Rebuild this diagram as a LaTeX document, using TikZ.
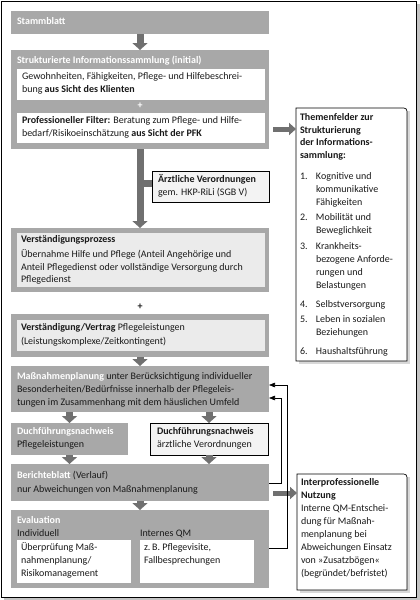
\documentclass[tikz,border=0pt]{standalone}
\usepackage{fontspec}
\setmainfont{Carlito}
\usetikzlibrary{arrows.meta,shadows}
\definecolor{boxgray}{HTML}{A8A8A8}
\definecolor{arrgray}{HTML}{707070}
\definecolor{lightfill}{HTML}{EBEBEB}
\definecolor{notefill}{HTML}{F3F3F3}
\definecolor{txt}{HTML}{1A1A1A}
\definecolor{framesh}{HTML}{C4C4C4}
\begin{document}
\begin{tikzpicture}[x=1pt,y=-1pt,
  every node/.style={inner sep=0pt, outer sep=0pt},
  box/.style={anchor=north west, draw=none},
  graybox/.style={box, fill=boxgray},
  whitebox/.style={box, fill=white},
  lightbox/.style={box, fill=lightfill},
  notebox/.style={box, fill=notefill, draw=black, line width=0.7pt},
  sidebox/.style={box, fill=white, drop shadow={shadow xshift=2.5pt, shadow yshift=-2.5pt, fill=black!30}},
  tl/.style={anchor=north west, align=left, text=txt, font=\fontsize{10}{13}\selectfont},
  wt/.style={tl, text=white, font=\fontsize{10}{13}\selectfont\bfseries},
  blockarrow/.style={draw=arrgray, line width=7pt, -{Triangle[width=15pt,length=7pt]}},
  blockline/.style={draw=arrgray, line width=7pt},
  sidearrow/.style={draw=arrgray, line width=5pt, -{Triangle[width=12pt,length=7pt]}},
  fb/.style={draw=black, line width=0.6pt, -{Triangle[width=4.5pt,length=6pt]}}
]
\useasboundingbox (0,0) rectangle (420,600);
% frame
\fill[framesh] (4,4) rectangle (420,600);
\draw[fill=white, line width=0.8pt] (1,1) rectangle (416,597);

% Stammblatt
\node[graybox, minimum width=258pt, minimum height=23pt] (stamm) at (11,11) {};
\node[wt] (stammT) at (17,15.7) {\strut Stammblatt};

% Strukturierte Informationssammlung
\node[graybox, minimum width=258pt, minimum height=99pt] (struk) at (11,50) {};
\node[wt] (strukT) at (17,54.7) {\strut Strukturierte Informationssammlung (initial)};
\node[whitebox, minimum width=248pt, minimum height=31pt] (gew) at (17,69) {};
\node[tl] (gewT) at (22,70.7) {\strut Gewohnheiten, Fähigkeiten, Pflege- und Hilfebeschrei-\\bung \textbf{aus Sicht des Klienten}};
\node[text=white, font=\fontsize{10}{13}\selectfont\bfseries] (plus1) at (140,106) {+};
\node[whitebox, minimum width=248pt, minimum height=30pt] (prof) at (17,113) {};
\node[tl] (profT) at (22,114.7) {\strut\textbf{Professioneller Filter:} Beratung zum Pflege- und Hilfe-\\bedarf/Risikoeinschätzung \textbf{aus Sicht der PFK}};

% Aerztliche Verordnungen
\node[notebox, minimum width=117pt, minimum height=31pt] (arzt) at (152,171) {};
\node[tl] (arztT) at (158,173.7) {\strut\textbf{Ärztliche Verordnungen}\\gem. HKP-RiLi (SGB V)};

% Verstaendigungsprozess
\node[graybox, minimum width=258pt, minimum height=64pt] (verst) at (11,228) {};
\node[lightbox, minimum width=248pt, minimum height=54pt] (verstI) at (17,233) {};
\node[tl, font=\fontsize{10}{13}\selectfont\bfseries] (verstT) at (21,233.7) {\strut Verständigungsprozess};
\node[tl, font=\fontsize{10}{12.5}\selectfont] (verstB) at (21,249) {\strut Übernahme Hilfe und Pflege (Anteil Angehörige und\\Anteil Pflegedienst oder vollständige Versorgung durch\\Pflegedienst};

\node[text=txt, font=\fontsize{10}{13}\selectfont\bfseries] (plus2) at (140,307) {+};

% Vertrag
\node[graybox, minimum width=258pt, minimum height=43pt] (vertr) at (11,314) {};
\node[lightbox, minimum width=248pt, minimum height=31pt] (vertrI) at (17,320) {};
\node[tl] (vertrT) at (21,321.7) {\strut\textbf{Verständigung/Vertrag} Pflegeleistungen\\[1pt](Leistungskomplexe/Zeitkontingent)};

% Massnahmenplanung
\node[graybox, minimum width=258pt, minimum height=46pt] (mass) at (11,366) {};
\node[tl] (massT) at (17,370.7) {\strut\textcolor{white}{\textbf{Maßnahmenplanung}} unter Berücksichtigung individueller\\Besonderheiten/Bedürfnisse innerhalb der Pflegeleis-\\tungen im Zusammenhang mit dem häuslichen Umfeld};

% Durchfuehrungsnachweise
\node[graybox, minimum width=117pt, minimum height=32pt] (dpfl) at (11,423) {};
\node[tl] (dpflT) at (17,425.7) {\strut\textcolor{white}{\textbf{Duchführungsnachweis}}\\Pflegeleistungen};
\node[notebox, minimum width=118pt, minimum height=32pt] (darzt) at (150,423) {};
\node[tl] (darztT) at (157,425.7) {\strut\textbf{Duchführungsnachweis}\\ärztliche Verordnungen};

% Berichteblatt
\node[graybox, minimum width=258pt, minimum height=37pt] (ber) at (11,464) {};
\node[tl] (berT) at (17,469.7) {\strut\textcolor{white}{\textbf{Berichteblatt}} (Verlauf)\\[1pt]nur Abweichungen von Maßnahmenplanung};

% Evaluation
\node[graybox, minimum width=258pt, minimum height=78pt] (eval) at (11,510) {};
\node[wt] (evalT) at (17,514.7) {\strut Evaluation};
\node[tl] (indT) at (17,527.7) {\strut Individuell};
\node[tl] (qmT) at (140,527.7) {\strut Internes QM};
\node[whitebox, minimum width=114pt, minimum height=43pt] (ueb) at (17,540) {};
\node[tl] (uebT) at (21,541.7) {\strut Überprüfung Maß-\\nahmenplanung/\\Risikomanagement};
\node[whitebox, minimum width=114pt, minimum height=43pt] (visi) at (140,540) {};
\node[tl] (visiT) at (144,541.7) {\strut z.\,B. Pflegevisite,\\Fallbesprechungen};

% block arrows
\draw[blockarrow] (stamm.south) -- (struk.north);
\draw[blockarrow] (struk.south) -- (verst.north);
\draw[blockline] (struk.south |- arzt.west) ++(0,-3) coordinate (j1);
\draw[blockline] (j1) -- (j1 -| arzt.west);
\draw[blockarrow] (vertr.south) -- (mass.north);
\draw[blockarrow] (mass.south -| dpfl.north) -- (dpfl.north);
\draw[blockarrow] (mass.south -| darzt.north) -- (darzt.north);
\draw[blockarrow] (dpfl.south) -- (dpfl.south |- ber.north);
\draw[blockarrow] (darzt.south) -- (darzt.south |- ber.north);
\draw[blockarrow] (ber.south) -- (eval.north);

% Themenfelder box
\node[sidebox, minimum width=111pt, minimum height=253pt] (them) at (296,108) {};
\draw[line width=0.7pt] (them.south west) -- (them.north west) -- ([xshift=-7pt]them.north east) .. controls (them.north east) .. ([yshift=-7pt]them.north east) -- (them.south east) -- cycle;
\node[tl, font=\fontsize{10}{12.7}\selectfont\bfseries] (themT) at (300,111.7) {\strut Themenfelder zur\\Strukturierung\\der Informations-\\sammlung:};
\node[tl] (i1) at (300,170.7) {\strut\makebox[16pt][l]{1.}Kognitive und\\\hspace*{16pt}kommunikative\\\hspace*{16pt}Fähigkeiten};
\node[tl] (i2) at (300,211.7) {\strut\makebox[16pt][l]{2.}Mobilität und\\\hspace*{16pt}Beweglichkeit};
\node[tl] (i3) at (300,240.7) {\strut\makebox[16pt][l]{3.}Krankheits-\\\hspace*{16pt}bezogene Anforde-\\\hspace*{16pt}rungen und\\\hspace*{16pt}Belastungen};
\node[tl] (i4) at (300,298.7) {\strut\makebox[16pt][l]{4.}Selbstversorgung};
\node[tl] (i5) at (300,313.7) {\strut\makebox[16pt][l]{5.}Leben in sozialen\\\hspace*{16pt}Beziehungen};
\node[tl] (i6) at (300,345.7) {\strut\makebox[16pt][l]{6.}Haushaltsführung};
\coordinate (s1) at (273,129);
\draw[sidearrow] (s1) -- (s1 -| them.west);

% Interprofessionelle Nutzung
\node[sidebox, minimum width=110pt, minimum height=116pt] (inter) at (297,474) {};
\draw[line width=0.7pt] (inter.south west) -- (inter.north west) -- ([xshift=-7pt]inter.north east) .. controls (inter.north east) .. ([yshift=-7pt]inter.north east) -- (inter.south east) -- cycle;
\node[tl] (interT) at (301,476.7) {\strut\textbf{Interprofessionelle}\\\textbf{Nutzung}\\Interne QM-Entschei-\\dung für Maßnah-\\menplanung bei\\Abweichungen Einsatz\\von »Zusatzbögen«\\(begründet/befristet)};
\coordinate (s2) at (273,493);
\draw[sidearrow] (s2) -- (s2 -| inter.west);

% feedback lines
\draw[fb] (eval.east |- 0,548) -- (287,548) |- (mass.east |- 0,385);
\draw[fb] (ber.east |- 0,483) -- (281,483) |- (mass.east |- 0,398);
\end{tikzpicture}
\end{document}
